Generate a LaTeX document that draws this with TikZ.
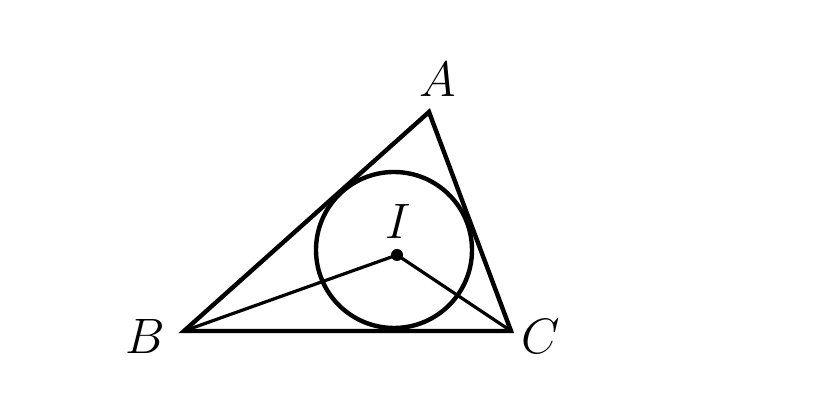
\documentclass[tikz,border=0pt]{standalone}
\usepackage{amsfonts, amsmath, amssymb}
\usepackage{tikz}

\begin{document}
\begin{tikzpicture}[x = 0.5pt, y = 0.5pt, font = \fontsize{27}{32}\selectfont]
\useasboundingbox (0,0) rectangle (820,400);

\coordinate (A) at (429,288);
\coordinate (B) at (184,69);
\coordinate (C) at (511,69);
\coordinate (I) at (397,145);

\draw[line width = 2.2pt] (A)--(B)--(C)--cycle;
\draw[line width = 2.2pt] (394,150) circle (78);
\draw[line width = 1.6pt] (B)--(I)--(C);
\fill (I) circle (6);

\draw node (labA) at (438,320) {$A$};
\draw node (labB) at (145,63) {$B$};
\draw node (labC) at (541,63) {$C$};
\draw node (labI) at (398,178) {$I$};
\end{tikzpicture}
\end{document}
